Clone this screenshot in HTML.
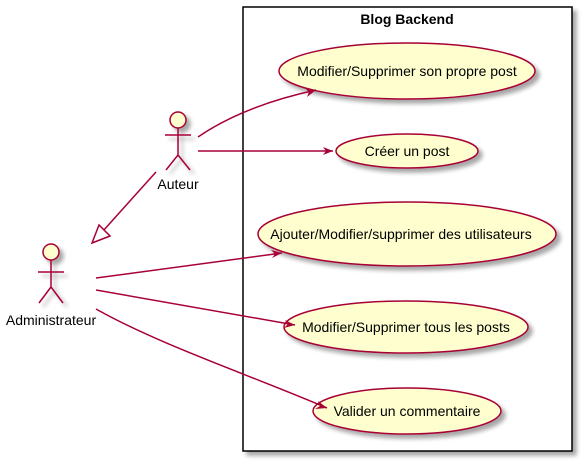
<!DOCTYPE html>
<html><head><style>body{margin:0;background:#fff}svg{display:block}</style></head><body>
<svg width="583" height="462" xmlns="http://www.w3.org/2000/svg" font-family="Liberation Sans, sans-serif">
<defs>
<filter id="sh" x="-20%" y="-20%" width="150%" height="150%"><feGaussianBlur in="SourceAlpha" stdDeviation="2"/><feOffset dx="4" dy="4"/><feComponentTransfer><feFuncA type="linear" slope="0.35"/></feComponentTransfer><feMerge><feMergeNode/><feMergeNode in="SourceGraphic"/></feMerge></filter>
</defs>
<rect x="243" y="7" width="329" height="444" fill="#fff" stroke="#000" stroke-width="1.5" filter="url(#sh)"/>
<text x="407" y="24" font-size="14" font-weight="bold" text-anchor="middle">Blog Backend</text>
<g fill="#FEFECE" stroke="#A80036" stroke-width="1.5" filter="url(#sh)">
<ellipse cx="407" cy="71" rx="128" ry="28"/>
<ellipse cx="407" cy="151" rx="71" ry="17"/>
<ellipse cx="407" cy="234" rx="149" ry="32"/>
<ellipse cx="406" cy="327" rx="122" ry="26"/>
<ellipse cx="407" cy="411" rx="94" ry="23"/>
</g>
<g font-size="14" text-anchor="middle" fill="#000">
<text x="407" y="76">Modifier/Supprimer son propre post</text>
<text x="407" y="156">Créer un post</text>
<text x="401" y="239">Ajouter/Modifier/supprimer des utilisateurs</text>
<text x="406" y="332">Modifier/Supprimer tous les posts</text>
<text x="407" y="416">Valider un commentaire</text>
<text x="178" y="189">Auteur</text>
<text x="51" y="325">Administrateur</text>
</g>
<g stroke="#A80036" stroke-width="1.5" fill="none">
<g filter="url(#sh)">
<circle cx="178" cy="120" r="8" fill="#FEFECE"/>
<path d="M178 128V155M165 135H191M178 155L166 170M178 155L190 170"/>
<circle cx="51" cy="252" r="8" fill="#FEFECE"/>
<path d="M51 260V287M38 272H64M51 287L39 303M51 287L63 303"/>
</g>
<path d="M198 137C230 115 270 100 316 90"/>
<path d="M198 151H333"/>
<path d="M156 172L103 231"/>
<path d="M110 236L92 243L99 225Z" fill="#fff"/>
<path d="M96 278L282 253"/>
<path d="M96 290L295 325"/>
<path d="M96 309C160 345 250 375 327 408"/>
</g>
<g fill="#A80036">
<path d="M316 90L305 88L309 92L307 97Z"/>
<path d="M333 151L323 147L326 151L323 155Z"/>
<path d="M282 253L271 250L275 254L272 258Z"/>
<path d="M295 325L285 320L288 324L284 328Z"/>
<path d="M327 408L318 401L320 406L315 409Z"/>
</g>
</svg>
</body></html>
